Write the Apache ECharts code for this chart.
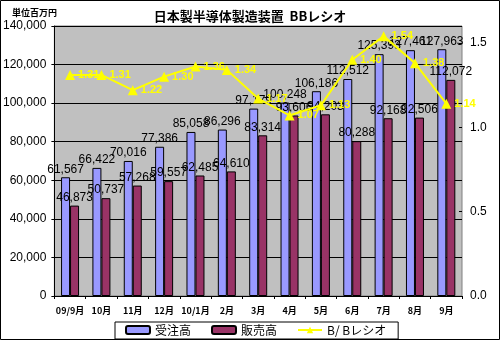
<!DOCTYPE html>
<html><head><meta charset="utf-8">
<script src="https://cdn.jsdelivr.net/npm/echarts@6/dist/echarts.min.js"></script>
<style>html,body{margin:0;padding:0;background:#fff}#c{width:500px;height:340px}</style>
</head><body><div id="c"></div>
<script>
const categories = ['09/9月','10月','11月','12月','10/1月','2月','3月','4月','5月','6月','7月','8月','9月'];
const orders = [61567,66422,70016,77386,85058,86296,97179,100248,106186,112512,125393,127461,127963];
const sales = [46873,50737,57268,59557,62485,64610,83314,93606,94203,80288,92168,92506,112072];
const ratio = [1.31,1.31,1.22,1.30,1.36,1.34,1.17,1.07,1.13,1.40,1.54,1.38,1.14];
const leftTicks = [0,20000,40000,60000,80000,100000,120000,140000];
const rightTicks = [0.0,0.5,1.0,1.5];

const fmt = v => v.toLocaleString('en-US');
const chart = echarts.init(document.getElementById('c'), null, {renderer:'canvas'});
const font = '"Liberation Sans", Arial, sans-serif';
const jp = '"Noto Sans CJK JP", sans-serif';
chart.setOption({
  animation:false,
  backgroundColor:'#fff',
  textStyle:{fontFamily:font},
  title:{text:'日本製半導体製造装置  BBレシオ', left:'center', top:5,
    textStyle:{fontSize:13, fontWeight:'bold', color:'#000', fontFamily:jp}},
  graphic:[
    {type:'rect', shape:{x:0.5,y:0.5,width:499,height:339}, style:{fill:'none', stroke:'#000', lineWidth:1}, silent:true, z:-1},
    {type:'text', left:12, top:8, style:{text:'単位百万円', font:'bold 9px "Noto Sans CJK JP", sans-serif', fill:'#000'}}
  ],
  legend:{left:115, top:322, itemWidth:24, itemHeight:8, itemGap:20,
    padding:[2,12,3,10], borderColor:'#000', borderWidth:1, backgroundColor:'#fff',
    textStyle:{fontSize:12, color:'#000', fontFamily:jp},
    data:['受注高','販売高','B/ Bレシオ']},
  grid:{left:54, right:38, top:26, bottom:44, show:true, backgroundColor:'#c0c0c0', borderColor:'#808080', borderWidth:1},
  xAxis:{type:'category', data:categories,
    axisLine:{lineStyle:{color:'#000'}}, axisTick:{show:true, length:3, lineStyle:{color:'#000'}},
    axisLabel:{interval:0, fontSize:9, fontWeight:'bold', color:'#000', margin:10, fontFamily:jp}},
  yAxis:[
    {type:'value', min:leftTicks[0], max:leftTicks[leftTicks.length-1], interval:20000,
      axisLine:{show:true, lineStyle:{color:'#000'}}, axisTick:{show:true, length:3, lineStyle:{color:'#000'}},
      splitLine:{lineStyle:{color:'#000', width:1}},
      axisLabel:{fontSize:12, color:'#000', margin:8, formatter:v=>fmt(v)}},
    {type:'value', min:0, max:1.6, interval:0.5,
      axisLine:{show:false}, axisTick:{show:true, length:3, inside:true, lineStyle:{color:'#000'}},
      splitLine:{show:false},
      axisLabel:{fontSize:12, color:'#000', margin:8, showMaxLabel:false,
        formatter:v=> rightTicks.some(t=>Math.abs(t-v)<1e-6) ? v.toFixed(1) : ''}}
  ],
  series:[
    {name:'受注高', type:'bar', data:orders, barWidth:9, barGap:'0%',
      itemStyle:{color:'#9999ff', borderColor:'#000', borderWidth:1},
      label:{show:true, position:'top', distance:2, fontSize:12, color:'#000', formatter:p=>fmt(p.value)}},
    {name:'販売高', type:'bar', data:sales, barWidth:9,
      itemStyle:{color:'#993366', borderColor:'#000', borderWidth:1},
      label:{show:true, position:'top', distance:2, fontSize:12, color:'#000', formatter:p=>fmt(p.value)}},
    {name:'B/ Bレシオ', type:'line', yAxisIndex:1, data:ratio,
      symbol:'triangle', symbolSize:10, lineStyle:{color:'#ffff00', width:2},
      itemStyle:{color:'#ffff00'},
      label:{show:true, position:'right', distance:3, fontSize:11, fontWeight:'bold', color:'#ffff00', formatter:p=>p.value.toFixed(2)}}
  ]
});
</script></body></html>
